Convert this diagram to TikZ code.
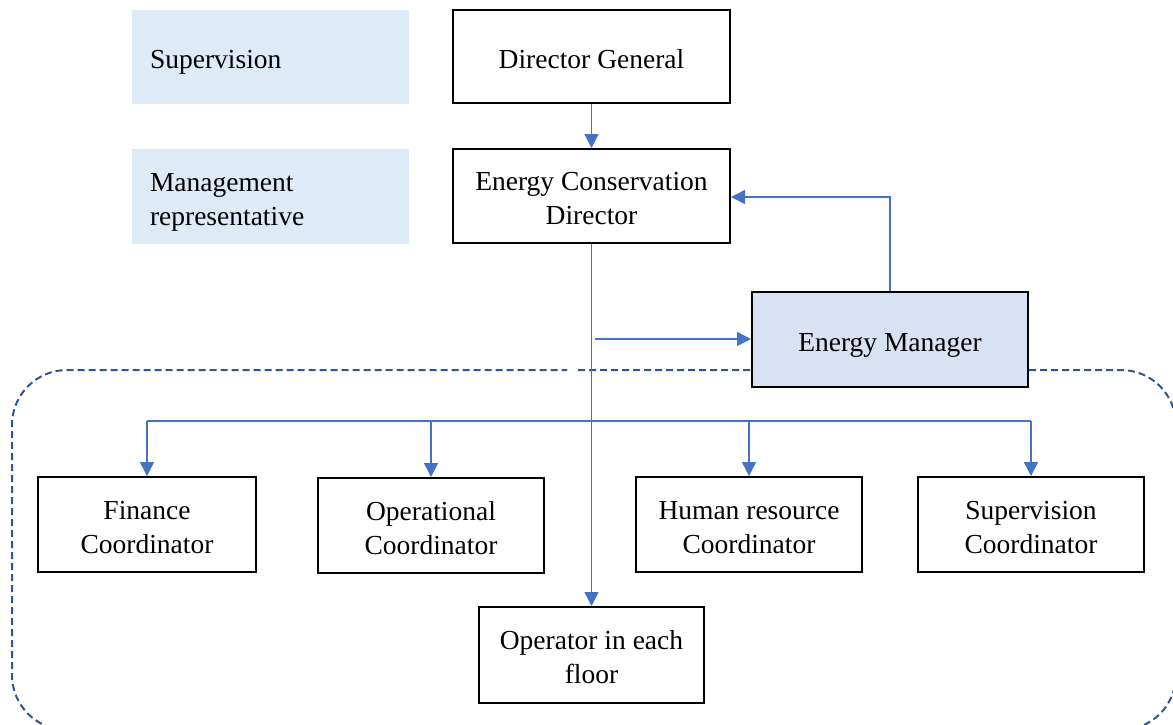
\documentclass[tikz,border=0pt]{standalone}
\usepackage{fontspec}
\setmainfont{Liberation Serif}
\usetikzlibrary{arrows.meta}
\definecolor{linkblue}{HTML}{4472C4}
\definecolor{frameblue}{HTML}{2F5597}
\definecolor{labelfill}{HTML}{DEEAF6}
\definecolor{mgrfill}{HTML}{D9E2F3}
% stacked lines, set a little below the optical centre of their box
\newcommand\lines[2][c]{\raisebox{0pt}[\dimexpr\height+10pt\relax][\depth]{%
  \begin{tabular}{@{}#1@{}}#2\end{tabular}}}
\tikzset{
  txt/.style={font=\fontsize{27.5}{34}\selectfont},
  orgbox/.style={draw=black, line width=2pt, fill=white, inner sep=0pt, txt},
  tagbox/.style={fill=labelfill, draw=none, align=left, inner sep=0pt, txt},
  link/.style={draw=linkblue, line width=1.5pt, -{Triangle[length=14pt,width=14pt]}},
  plain/.style={draw=linkblue, line width=1.5pt},
  frame/.style={draw=frameblue, line width=2pt, dash pattern=on 7pt off 4pt}
}
\begin{document}
\begin{tikzpicture}[x=1pt,y=-1pt]
\useasboundingbox (0,0) rectangle (1173,724);
\clip (0,0) rectangle (1173,724);

% dashed team frame
\draw[frame, rounded corners=55pt] (578,370) -- (1176,370) -- (1176,730)
  -- (12,730) -- (12,370) -- (567,370);

% level labels
\node[tagbox, minimum width=277pt, minimum height=94pt, text width=241pt] (sup) at (270.5,57) {\lines[l]{Supervision}};
\node[tagbox, minimum width=277pt, minimum height=95pt, text width=241pt] (mgt) at (270.5,196.5) {\lines[l]{Management\\representative}};

% hierarchy boxes
\node[orgbox, minimum width=277pt, minimum height=93pt] (dg) at (591.5,56.5) {\lines{Director General}};
\node[orgbox, minimum width=277pt, minimum height=94pt] (ecd) at (591.5,196) {\lines{Energy Conservation\\Director}};
\node[orgbox, fill=mgrfill, minimum width=276pt, minimum height=95pt] (em) at (890,339.5) {\lines{Energy Manager}};
\node[orgbox, minimum width=218pt, minimum height=95pt] (fin) at (147,524.5) {\lines{Finance\\Coordinator}};
\node[orgbox, minimum width=226pt, minimum height=95pt] (ops) at (431,525.5) {\lines{Operational\\Coordinator}};
\node[orgbox, minimum width=226pt, minimum height=95pt] (hr) at (749,524.5) {\lines{Human resource\\Coordinator}};
\node[orgbox, minimum width=226pt, minimum height=95pt] (sc) at (1031,524.5) {\lines{Supervision\\Coordinator}};
\node[orgbox, minimum width=225pt, minimum height=96pt] (op) at (591.5,655) {\lines{Operator in each\\floor}};

% connectors
\coordinate (busL) at (147,421);
\coordinate (busR) at (1031,421);
\coordinate (feed) at (595,339);
\coordinate (ret) at (890,197);

\draw[link] (dg.south) -- (ecd.north);
\draw[link] (ecd.south) -- (op.north);
\draw[link] (em.north -| ret) -- (ret) -- (ecd.east |- ret);
\draw[link] (feed) -- (em.west |- feed);
\draw[plain] (busL) -- (busR);
\draw[link] (busL) -- (fin.north);
\draw[link] (ops.north |- busL) -- (ops.north);
\draw[link] (hr.north |- busL) -- (hr.north);
\draw[link] (busR) -- (sc.north);
\end{tikzpicture}
\end{document}
